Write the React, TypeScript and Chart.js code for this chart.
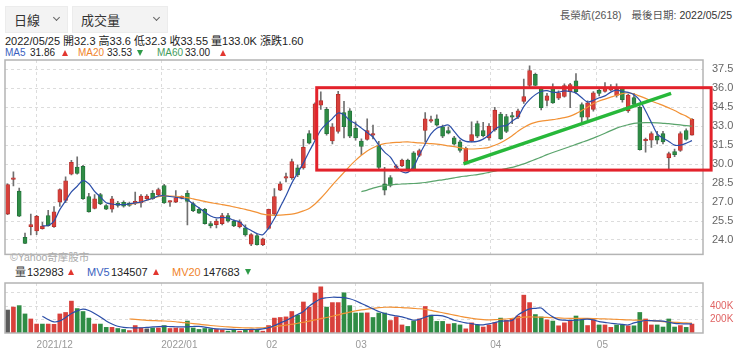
import React, { useEffect, useRef } from 'react';
import { Chart, registerables } from 'chart.js';
Chart.register(...registerables);

// ---------- data ----------
const opens = [26.05, 28.8, 27.86, 24.22, 25.05, 24.72, 24.9, 25.93, 25.05, 27.0,
  27.14, 29.2, 29.77, 29.82, 27.44, 26.5, 27.6, 26.73, 26.43, 26.93,
  26.98, 26.9, 26.93, 26.93, 27.26, 27.69, 27.56, 28.31, 27.0, 27.0,
  27.3, 27.69, 26.88, 26.43, 26.43, 25.3, 25.22, 25.3, 25.93, 25.48,
  25.05, 24.97, 23.67, 24.35, 23.62, 24.92, 26.05, 27.94, 28.9, 28.94,
  29.7, 29.7, 32.41, 31.96, 34.67, 34.34, 31.83, 32.58, 34.09, 34.22,
  32.83, 31.83, 31.96, 32.3, 31.51, 28.44, 28.94, 29.75, 29.87, 30.32,
  30.9, 30.7, 32.66, 33.41, 33.59, 32.96, 32.66, 32.08, 31.76, 30.08,
  31.83, 33.21, 32.66, 32.08, 32.71, 33.96, 33.77, 33.84, 33.71, 34.97,
  36.22, 37.1, 35.98, 35.05, 35.98, 35.22, 35.35, 35.73, 36.6, 34.72,
  33.71, 34.34, 35.85, 35.75, 35.85, 35.43, 35.98, 34.22, 35.27, 34.5,
  31.85, 31.9, 32.21, 32.41, 30.5, 31.0, 31.08, 32.66, 32.3];
const closes = [28.39, 28.85, 25.88, 23.72, 25.22, 25.88, 25.1, 25.12, 26.23, 27.99,
  28.69, 30.15, 29.27, 27.26, 26.23, 27.26, 26.86, 26.43, 27.26, 26.73,
  26.68, 26.73, 27.06, 27.48, 27.48, 27.26, 27.99, 26.93, 27.05, 27.36,
  27.45, 27.06, 26.31, 26.13, 25.3, 25.12, 25.5, 25.93, 25.48, 25.12,
  25.43, 24.4, 24.42, 23.62, 24.09, 26.43, 27.44, 28.44, 29.0, 30.2,
  29.14, 31.33, 31.66, 34.77, 35.02, 32.41, 32.96, 35.52, 32.96, 32.21,
  32.08, 31.4, 32.66, 32.4, 29.74, 27.94, 28.31, 29.85, 30.32, 29.62,
  29.55, 31.08, 33.59, 33.5, 33.09, 32.21, 32.46, 31.58, 31.08, 31.25,
  32.33, 32.21, 32.25, 33.01, 34.27, 32.0, 32.58, 33.71, 34.22, 35.35,
  37.41, 36.22, 34.47, 35.4, 34.85, 35.65, 36.22, 36.3, 35.73, 33.71,
  34.85, 35.65, 35.6, 36.0, 36.1, 35.92, 35.1, 35.47, 34.72, 31.15,
  31.95, 32.41, 31.9, 31.76, 30.83, 30.75, 32.41, 31.96, 33.55];
const highs = [28.45, 29.4, 28.1, 24.55, 26.05, 25.95, 25.4, 26.35, 26.65, 28.05,
  29.0, 30.3, 30.57, 29.9, 27.7, 27.6, 27.7, 26.8, 27.45, 27.05,
  27.1, 27.0, 27.8, 27.6, 27.6, 27.9, 28.1, 28.4, 27.1, 27.9,
  27.5, 27.9, 27.0, 26.55, 26.5, 25.45, 25.65, 26.1, 26.1, 25.6,
  25.6, 25.2, 24.5, 24.45, 24.15, 26.45, 28.06, 28.6, 29.3, 30.4,
  29.95, 31.96, 32.65, 34.85, 35.73, 34.5, 33.2, 35.77, 34.97, 34.4,
  33.34, 32.0, 33.59, 33.09, 31.8, 29.74, 29.1, 29.95, 30.4, 30.4,
  31.0, 31.2, 34.09, 33.8, 33.9, 33.1, 32.96, 32.2, 31.9, 31.35,
  33.34, 33.4, 33.3, 33.2, 34.5, 34.1, 33.95, 34.1, 34.35, 36.73,
  37.78, 37.2, 36.1, 35.6, 36.35, 35.8, 36.35, 36.4, 37.16, 34.85,
  35.0, 35.75, 36.0, 36.45, 36.3, 36.35, 36.1, 35.55, 35.6, 34.6,
  32.06, 32.55, 32.6, 32.6, 30.95, 31.2, 32.55, 32.8, 33.6];
const lows = [26.0, 28.27, 25.85, 23.7, 24.4, 24.42, 24.85, 25.1, 25.0, 26.65,
  26.95, 29.15, 29.2, 27.2, 26.2, 26.45, 26.8, 26.4, 26.2, 26.6,
  26.6, 26.65, 26.8, 26.6, 27.2, 27.2, 27.45, 26.9, 26.65, 26.95,
  27.25, 25.2, 26.25, 26.1, 25.25, 24.95, 24.95, 25.2, 25.4, 25.05,
  24.95, 24.3, 23.55, 23.6, 23.55, 24.85, 26.0, 27.9, 28.6, 28.8,
  29.0, 29.6, 31.6, 31.9, 34.34, 32.3, 31.6, 32.45, 32.08, 32.1,
  31.9, 30.75, 31.9, 32.0, 29.6, 27.56, 28.2, 29.6, 29.8, 29.5,
  29.5, 30.6, 31.76, 33.3, 33.0, 32.1, 32.4, 31.5, 30.95, 30.0,
  31.75, 32.1, 32.15, 31.9, 32.6, 31.95, 32.5, 33.2, 33.6, 34.8,
  36.1, 36.2, 34.3, 34.6, 34.8, 35.1, 35.3, 34.47, 35.6, 33.34,
  33.5, 34.2, 35.4, 35.7, 35.8, 35.3, 34.9, 34.1, 34.6, 31.1,
  30.95, 31.33, 31.6, 31.6, 29.6, 30.6, 31.0, 31.9, 32.3];
// volume in thousands of shares
const volumes = [342, 386, 408, 284, 209, 133, 133, 133, 129, 284,
  306, 475, 364, 320, 222, 133, 133, 84, 84, 67,
  53, 36, 111, 75, 62, 75, 75, 111, 67, 75,
  67, 178, 75, 53, 67, 62, 53, 44, 27, 53,
  27, 53, 44, 44, 27, 111, 222, 231, 240, 320,
  266, 462, 386, 595, 688, 386, 453, 453, 599, 408,
  298, 298, 300, 231, 298, 298, 186, 240, 120, 98,
  178, 209, 395, 266, 173, 173, 133, 142, 120, 62,
  151, 120, 89, 120, 155, 222, 186, 217, 253, 564,
  453, 275, 240, 195, 178, 107, 151, 186, 253, 195,
  111, 195, 120, 120, 84, 120, 120, 107, 107, 306,
  209, 120, 120, 89, 209, 89, 111, 84, 133];

const ma5Start = 6;
const ma5 = [25.12, 25.15, 25.5, 26.4, 27.1, 27.8, 28.25, 28.7, 28.45, 27.85,
  27.4, 26.95, 26.85, 26.8, 26.8, 26.85, 26.93, 27.0, 27.15, 27.3,
  27.48, 27.5, 27.44, 27.38, 27.3, 27.18, 26.85, 26.55, 26.2, 25.9,
  25.75, 25.78, 25.75, 25.55, 25.43, 25.0, 24.75, 24.5, 24.42, 24.95,
  25.7, 26.6, 27.5, 28.5, 29.3, 30.1, 31.0, 31.85, 32.7, 33.2,
  33.6, 34.05, 33.9, 33.45, 33.2, 32.85, 32.5, 32.15, 31.5, 30.95,
  30.55, 29.85, 29.4, 29.35, 29.8, 30.75, 31.6, 32.4, 32.85, 33.0,
  33.1, 32.6, 32.05, 31.8, 31.76, 31.8, 31.98, 32.3, 32.75, 33.0,
  33.05, 33.4, 33.75, 34.55, 35.1, 35.5, 35.75, 35.82, 35.68, 35.7,
  35.8, 35.75, 35.62, 35.25, 34.92, 35.05, 35.25, 35.4, 35.7, 35.85,
  35.75, 35.68, 35.5, 35.05, 34.2, 33.3, 32.4, 32.05, 31.8, 31.5,
  31.5, 31.65, 31.86];
const ma20Start = 21;
const ma20 = [26.8, 26.9, 27.0, 27.15, 27.3, 27.42, 27.48, 27.48, 27.46, 27.42,
  27.35, 27.25, 27.15, 27.05, 26.95, 26.88, 26.8, 26.72, 26.62, 26.52,
  26.42, 26.3, 26.18, 26.05, 25.98, 25.95, 25.97, 26.0, 26.05, 26.15,
  26.3, 26.5, 26.85, 27.3, 27.8, 28.35, 28.85, 29.35, 29.85, 30.3,
  30.7, 31.05, 31.3, 31.5, 31.62, 31.68, 31.72, 31.75, 31.76, 31.72,
  31.68, 31.65, 31.62, 31.58, 31.52, 31.45, 31.38, 31.3, 31.22, 31.2,
  31.22, 31.26, 31.33, 31.5, 31.7, 31.95, 32.25, 32.6, 32.9, 33.15,
  33.3, 33.4, 33.46, 33.52, 33.6, 33.68, 33.8, 34.0, 34.25, 34.5,
  34.8, 35.0, 35.15, 35.3, 35.45, 35.58, 35.65, 35.55, 35.38, 35.2,
  35.0, 34.82, 34.65, 34.45, 34.25, 34.0, 33.8, 33.53];
const ma60Start = 61;
const ma60 = [27.82, 27.95, 28.1, 28.22, 28.3, 28.36, 28.4, 28.43, 28.45, 28.47,
  28.5, 28.55, 28.62, 28.7, 28.76, 28.84, 28.92, 29.0, 29.06, 29.12,
  29.17, 29.25, 29.35, 29.45, 29.55, 29.65, 29.75, 29.88, 30.02, 30.2,
  30.38, 30.56, 30.75, 30.92, 31.08, 31.24, 31.4, 31.56, 31.72, 31.88,
  32.06, 32.25, 32.45, 32.65, 32.85, 33.0, 33.12, 33.22, 33.27, 33.29,
  33.28, 33.26, 33.23, 33.2, 33.15, 33.1, 33.05, 33.0];
const mv5Start = 6;
const mv5 = [250, 200, 165, 180, 230, 290, 330, 355, 335, 290,
  240, 180, 135, 100, 85, 78, 75, 78, 85, 90,
  95, 98, 96, 93, 90, 92, 97, 98, 88, 72,
  62, 58, 55, 53, 52, 52, 53, 53, 62, 80,
  110, 150, 185, 230, 275, 320, 400, 460, 510, 525,
  533, 532, 528, 510, 480, 440, 400, 360, 320, 290,
  270, 255, 240, 215, 190, 205, 235, 262, 262, 255,
  228, 190, 170, 152, 140, 125, 122, 135, 155, 175,
  182, 186, 270, 320, 360, 368, 372, 300, 240, 200,
  192, 188, 190, 200, 208, 195, 170, 158, 145, 138,
  128, 120, 150, 170, 186, 183, 180, 177, 160, 143,
  138, 135, 134.5];
const mv20Start = 21;
const mv20 = [209, 202, 195, 189, 185, 182, 179, 175, 168, 158,
  150, 141, 131, 121, 112, 104, 97, 90, 84, 80,
  77, 75, 75, 78, 86, 95, 105, 117, 130, 145,
  160, 178, 195, 214, 231, 250, 270, 292, 312, 330,
  345, 357, 367, 377, 384, 386, 383, 378, 373, 367,
  361, 352, 336, 318, 302, 285, 267, 250, 233, 220,
  208, 199, 195, 198, 204, 209, 218, 228, 238, 240,
  238, 235, 232, 228, 224, 220, 217, 217, 217, 217,
  215, 212, 210, 207, 203, 199, 195, 192, 190, 187,
  183, 177, 170, 164, 159, 155, 151, 147.7];

const priceTicks = [24, 25.5, 27, 28.5, 30, 31.5, 33, 34.5, 36, 37.5];
const volumeTicks = [200, 400, 600];
const volumeTickLabels = ['200K', '400K', ''];
const monthTickPos = [5, 26.5, 44.6, 60, 83.2, 101.6];
const monthLabels = ['2021/12', '2022/01', '02', '03', '04', '05'];
// hand-drawn annotations (data coordinates: index, price)
const boxCorners = [53.3, 36.05, 121.3, 29.53];
const trendPoints = [78.6, 30.02, 114.4, 35.6];

// ---------- styles ----------
const RED = '#d8403b';
const RED_B = '#b32c28';
const GREEN = '#2f8c45';
const GREEN_B = '#22703a';
const GRAY = '#5a5a5a';
const FONT = '"Liberation Sans", Arial, "Noto Sans CJK TC", sans-serif';
const X_MIN = -0.45;
const X_MAX = 119.9;

const panelBorder = {
  id: 'panelBorder',
  afterDraw(chart: any) {
    const { ctx, chartArea: a } = chart;
    ctx.save();
    ctx.strokeStyle = '#b4b4b4';
    ctx.lineWidth = 1.5;
    ctx.strokeRect(a.left, a.top, a.right - a.left, a.bottom - a.top);
    ctx.restore();
  },
};

const annotations = {
  id: 'annotations',
  afterDraw(chart: any) {
    const { ctx, scales } = chart;
    const x = scales.x, y = scales.y;
    ctx.save();
    ctx.strokeStyle = '#e3222b';
    ctx.lineWidth = 3;
    const l = x.getPixelForValue(boxCorners[0]);
    const t = y.getPixelForValue(boxCorners[1]);
    const r = x.getPixelForValue(boxCorners[2]);
    const b = y.getPixelForValue(boxCorners[3]);
    ctx.strokeRect(l, t, r - l, b - t);
    ctx.strokeStyle = '#27b83a';
    ctx.lineWidth = 3.5;
    ctx.beginPath();
    ctx.moveTo(x.getPixelForValue(trendPoints[0]), y.getPixelForValue(trendPoints[1]));
    ctx.lineTo(x.getPixelForValue(trendPoints[2]), y.getPixelForValue(trendPoints[3]));
    ctx.stroke();
    ctx.restore();
  },
};

const toPts = (start: number, arr: number[]) => arr.map((v, k) => ({ x: start + k, y: v }));

const xScaleBase = (showLabels: boolean, h: number) => ({
  type: 'linear' as const,
  min: X_MIN,
  max: X_MAX,
  offset: false,
  grid: { color: '#dcdcdc', lineWidth: 1, drawTicks: false, offset: false },
  border: { display: false, dash: [3, 3] },
  afterBuildTicks: (s: any) => { s.ticks = monthTickPos.map((v) => ({ value: v })); },
  afterFit: (s: any) => { s.height = h; },
  ticks: {
    display: showLabels,
    autoSkip: false,
    maxRotation: 0,
    minRotation: 0,
    align: 'start' as const,
    padding: 6,
    color: '#999',
    font: { size: 10, family: FONT },
    callback: (_v: any, i: number) => monthLabels[i],
  },
});

const Tri = ({ up, x, y }: { up: boolean; x: number; y: number }) => (
  <div
    style={{
      position: 'absolute', left: x, top: y, width: 0, height: 0,
      borderLeft: '3.5px solid transparent', borderRight: '3.5px solid transparent',
      ...(up ? { borderBottom: '6px solid #e2362f' } : { borderTop: '6px solid #2e9a48' }),
    }}
  />
);

const T = ({ x, y, c, s = 11, children }: any) => (
  <div style={{ position: 'absolute', left: x, top: y, color: c, fontSize: s, lineHeight: '12px', whiteSpace: 'nowrap' }}>{children}</div>
);

const Select = ({ x, w, label }: { x: number; w: number; label: string }) => (
  <div style={{ position: 'absolute', left: x, top: 6, width: w, height: 27, background: '#f3f3f3', border: '1px solid #ececec', boxSizing: 'border-box' }}>
    <div style={{ position: 'absolute', left: 8, top: 6, fontSize: 13, lineHeight: '15px', color: '#333' }}>{label}</div>
    <div style={{ position: 'absolute', right: 8, top: 8, width: 4, height: 4, borderRight: '1.3px solid #666', borderBottom: '1.3px solid #666', transform: 'rotate(45deg)' }} />
  </div>
);

export default function App() {
  const priceRef = useRef<HTMLCanvasElement>(null);
  const volRef = useRef<HTMLCanvasElement>(null);

  useEffect(() => {
    const idx = closes.map((_, i) => i);
    const up = idx.map((i) => closes[i] >= opens[i]);
    const price = new Chart(priceRef.current!, {
      type: 'bar',
      data: {
        datasets: [
          { type: 'line', data: toPts(ma5Start, ma5), borderColor: '#2b4ea8', borderWidth: 1.2, pointRadius: 0, tension: 0.3 } as any,
          { type: 'line', data: toPts(ma20Start, ma20), borderColor: '#f29236', borderWidth: 1.2, pointRadius: 0, tension: 0.3 } as any,
          { type: 'line', data: toPts(ma60Start, ma60), borderColor: '#5aa46c', borderWidth: 1.2, pointRadius: 0, tension: 0.3 } as any,
          {
            data: idx.map((i) => ({ x: i, y: [opens[i], closes[i]] })),
            backgroundColor: up.map((u) => (u ? RED : GREEN)),
            borderColor: up.map((u) => (u ? RED_B : GREEN_B)),
            borderWidth: 0.8,
            borderSkipped: false,
            barThickness: 4,
            minBarLength: 1.5,
            grouped: false,
          } as any,
          {
            data: idx.map((i) => ({ x: i, y: [lows[i], highs[i]] })),
            backgroundColor: '#707070',
            barThickness: 1,
            grouped: false,
          } as any,
        ],
      },
      options: {
        responsive: false,
        animation: false,
        events: [],
        layout: { padding: { left: 5, top: 60, right: 0, bottom: 6 } },
        plugins: { legend: { display: false }, tooltip: { enabled: false } },
        scales: {
          x: xScaleBase(false, 0) as any,
          y: {
            position: 'right',
            min: 22.86,
            max: 38.24,
            grid: { color: '#dcdcdc', drawTicks: false },
            border: { display: false, dash: [3, 3] },
            afterBuildTicks: (s: any) => { s.ticks = priceTicks.map((v) => ({ value: v })); },
            afterFit: (s: any) => { s.width = 37; },
            ticks: { padding: 9, color: '#666', font: { size: 11, family: FONT }, callback: (v: any) => Number(v).toFixed(1) },
          } as any,
        },
      },
      plugins: [panelBorder, annotations],
    });

    const vol = new Chart(volRef.current!, {
      type: 'bar',
      data: {
        datasets: [
          { type: 'line', data: toPts(mv5Start, mv5), borderColor: '#2b4ea8', borderWidth: 1.2, pointRadius: 0, tension: 0.3 } as any,
          { type: 'line', data: toPts(mv20Start, mv20), borderColor: '#f29236', borderWidth: 1.2, pointRadius: 0, tension: 0.3 } as any,
          {
            data: idx.map((i) => ({ x: i, y: volumes[i] })),
            backgroundColor: idx.map((i) =>
              i === 0 || closes[i] === closes[i - 1] ? GRAY : closes[i] > closes[i - 1] ? RED : GREEN),
            barThickness: 4,
            grouped: false,
          } as any,
        ],
      },
      options: {
        responsive: false,
        animation: false,
        events: [],
        layout: { padding: { left: 5, top: 7, right: 0, bottom: 0 } },
        plugins: { legend: { display: false }, tooltip: { enabled: false } },
        scales: {
          x: xScaleBase(true, 25) as any,
          y: {
            position: 'right',
            min: 0,
            max: 745,
            grid: { color: '#dcdcdc', drawTicks: false },
            border: { display: false, dash: [3, 3] },
            afterBuildTicks: (s: any) => { s.ticks = volumeTicks.map((v) => ({ value: v })); },
            afterFit: (s: any) => { s.width = 37; },
            ticks: { padding: 7, color: '#e06464', font: { size: 10, family: FONT }, callback: (_v: any, i: number) => volumeTickLabels[i] },
          } as any,
        },
      },
      plugins: [panelBorder],
    });

    return () => { price.destroy(); vol.destroy(); };
  }, []);

  return (
    <div style={{ position: 'fixed', left: 0, top: 0, width: 740, height: 358, background: '#fff', fontFamily: FONT, overflow: 'hidden' }}>
      <Select x={5} w={63} label="日線" />
      <Select x={72} w={96} label="成交量" />
      <div style={{ position: 'absolute', right: 8, top: 9, fontSize: 10.5, lineHeight: '12px', color: '#555', whiteSpace: 'nowrap' }}>
        長榮航(2618)<span style={{ marginLeft: 10 }}>最後日期: </span><span style={{ color: '#333' }}>2022/05/25</span>
      </div>
      <T x={5} y={35} c="#222">2022/05/25 開32.3 高33.6 低32.3 收33.55 量133.0K 漲跌1.60</T>
      <T x={5} y={47} c="#3a5fc0" s={10}>MA5</T>
      <T x={30} y={47} c="#222" s={10}>31.86</T>
      <Tri up x={62} y={50} />
      <T x={78} y={47} c="#f0842a" s={10}>MA20</T>
      <T x={107} y={47} c="#222" s={10}>33.53</T>
      <Tri up={false} x={137} y={50} />
      <T x={157} y={47} c="#3f9c5c" s={10}>MA60</T>
      <T x={185} y={47} c="#222" s={10}>33.00</T>
      <Tri up x={220} y={50} />

      <T x={15} y={265.5} c="#444">量</T>
      <T x={27} y={265.5} c="#222">132983</T>
      <Tri up x={68} y={268.5} />
      <T x={87} y={265.5} c="#3a5fc0">MV5</T>
      <T x={111} y={265.5} c="#222">134507</T>
      <Tri up x={153} y={268.5} />
      <T x={172} y={265.5} c="#f0842a">MV20</T>
      <T x={203} y={265.5} c="#222">147683</T>
      <Tri up={false} x={245} y={268.5} />

      <T x={10} y={251} c="#aaa" s={10.5}>©Yahoo奇摩股市</T>

      <canvas ref={priceRef} width={740} height={270} style={{ position: 'absolute', left: 0, top: 0 }} />
      <canvas ref={volRef} width={740} height={88} style={{ position: 'absolute', left: 0, top: 270 }} />
    </div>
  );
}
